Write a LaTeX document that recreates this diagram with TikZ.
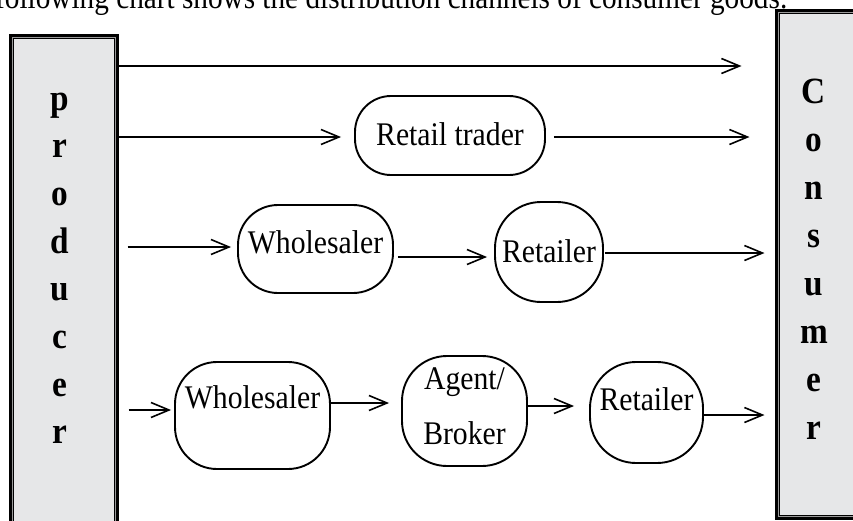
\documentclass[tikz,border=0pt]{standalone}
\usepackage{fontspec}
\setmainfont{Liberation Serif}[FakeStretch=0.9]
\usetikzlibrary{arrows.meta}
\definecolor{panel}{HTML}{E6E7E8}
\definecolor{rimgray}{HTML}{9A9A9A}
\begin{document}
\begin{tikzpicture}[x=1pt,y=-1pt,
  party/.style={draw=black, line width=5pt, fill=panel, inner sep=0pt},
  rim/.style={draw=rimgray, line width=0.8pt},
  letter/.style={anchor=base, inner sep=0pt, font=\fontsize{37}{37}\selectfont\bfseries},
  stage/.style={draw=black, line width=1.9pt, inner sep=0pt, align=center,
    font=\fontsize{33}{55}\selectfont},
  flow/.style={line width=1.6pt, -{Straight Barb[length=18pt,width=15pt]}}]
\useasboundingbox (0,0) rectangle (853,520);
\clip (0,0) rectangle (853,520);

% heading line
\node[anchor=base west, inner sep=0pt, font=\fontsize{32.5}{32.5}\selectfont] (title) at (-5,8)
  {following chart shows the distribution channels of consumer goods.};

% the two end parties
\node[party, minimum width=105pt, minimum height=503.5pt] (prod) at (64,288.25) {};
\node[party, minimum width=122.5pt, minimum height=506pt] (cons) at (838.75,264.5) {};
\draw[rim] ([shift={(3.2pt,-3.2pt)}]prod.north west) rectangle ([shift={(-3.2pt,3.2pt)}]prod.south east);
\draw[rim] ([shift={(3.2pt,-3.2pt)}]cons.north west) rectangle ([shift={(-3.2pt,3.2pt)}]cons.south east);

\foreach \ch [count=\i] in {p,r,o,d,u,c,e,r}
  \node[letter] (pl\i) at ({60},{110+47.7*(\i-1)}) {\ch};
\foreach \ch [count=\i] in {C,o,n,s,u,m,e,r}
  \node[letter] (cl\i) at ({814},{103+48.1*(\i-1)}) {\ch};

% intermediaries
\node[stage, minimum width=190pt, minimum height=79pt, rounded corners=36pt, text depth=3.5pt] (rt) at (450,135.5) {Retail trader};
\node[stage, minimum width=155pt, minimum height=88pt, rounded corners=40pt, text depth=14.5pt] (ws1) at (315.5,249) {Wholesaler};
\node[stage, minimum width=108pt, minimum height=100pt, rounded corners=46pt, text depth=2.5pt] (rl1) at (549,252) {Retailer};
\node[stage, minimum width=155pt, minimum height=107pt, rounded corners=42pt, text depth=37.5pt] (ws2) at (252.5,415.5) {Wholesaler};
\node[stage, minimum width=125pt, minimum height=110pt, rounded corners=45pt, text depth=9.5pt] (ag) at (464.5,411) {Agent/\\Broker};
\node[stage, minimum width=113pt, minimum height=101pt, rounded corners=46pt, text depth=27.5pt] (rl2) at (646.5,412.5) {Retailer};

% heights of the flow lines
\coordinate (row1) at (0,66);
\coordinate (row2) at (0,137);
\coordinate (row3a) at (0,247);
\coordinate (row3b) at (0,257);
\coordinate (row3c) at (0,253);
\coordinate (row4a) at (0,410);
\coordinate (row4b) at (0,403);
\coordinate (row4c) at (0,406);
\coordinate (row4d) at (0,415);

% channel 1: direct
\draw[flow, shorten >=33.5pt] (prod.east |- row1) -- (cons.west |- row1);
% channel 2: retail trader
\draw[flow, shorten >=13pt] (prod.east |- row2) -- (rt.west |- row2);
\draw[flow, shorten <=8pt, shorten >=25.5pt] (rt.east |- row2) -- (cons.west |- row2);
% channel 3: wholesaler, retailer
\draw[flow, shorten <=8.5pt, shorten >=6pt] (prod.east |- row3a) -- (ws1.west |- row3a);
\draw[flow, shorten <=4pt, shorten >=7pt] (ws1.east |- row3b) -- (rl1.west |- row3b);
\draw[flow, shorten <=1pt, shorten >=10.5pt] (rl1.east |- row3c) -- (cons.west |- row3c);
% channel 4: wholesaler, agent, retailer
\draw[flow, shorten <=9.5pt, shorten >=3pt] (prod.east |- row4a) -- (ws2.west |- row4a);
\draw[flow, shorten >=12pt] (ws2.east |- row4b) -- (ag.west |- row4b);
\draw[flow, shorten >=15pt] (ag.east |- row4c) -- (rl2.west |- row4c);
\draw[flow, shorten >=10.5pt] (rl2.east |- row4d) -- (cons.west |- row4d);
\end{tikzpicture}
\end{document}
